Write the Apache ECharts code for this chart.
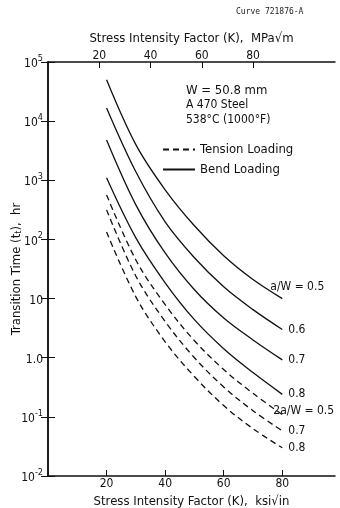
<!DOCTYPE html>
<html>
<head>
<meta charset="utf-8">
<script src="https://cdn.jsdelivr.net/npm/echarts@6/dist/echarts.min.js"></script>
<style>
  html, body { margin: 0; padding: 0; background: #fff; }
  #main { width: 340px; height: 508px; }
</style>
</head>
<body>
<div id="main"></div>
<script>
// stress intensity factor K, ksi sqrt(in)
const kKsi = [20, 30, 40, 50, 60, 70, 80];

// transition time t_t, hr
const bend05 = [50000, 4000, 690, 170, 53, 21, 10];
const bend06 = [16700, 1390, 198, 49, 15.8, 6.5, 3.0];
const bend07 = [4800, 384, 59, 14.1, 4.7, 2.0, 0.92];
const bend08 = [1100, 106, 18.5, 4.4, 1.42, 0.56, 0.24];
const tens05 = [566, 45, 7.9, 1.94, 0.63, 0.25, 0.109];
const tens07 = [316, 24, 4.1, 1.0, 0.32, 0.127, 0.058];
const tens08 = [134, 10.7, 1.86, 0.48, 0.155, 0.063, 0.030];

const bottomTicks = [20, 40, 60, 80];
const topTicks = [20, 40, 60, 80];

const FONT = '"Liberation Sans Narrow", "DejaVu Sans Condensed", sans-serif';

const chart = echarts.init(document.getElementById('main'));

function curve (values, dashed, label, offset) {
  return {
    name: dashed ? 'Tension Loading' : 'Bend Loading',
    type: 'line',
    smooth: 0.35,
    symbol: 'none',
    data: kKsi.map((k, i) => [k, values[i]]),
    itemStyle: { color: '#111' },
    lineStyle: { color: '#111', width: 1.3, type: dashed ? [6, 4] : 'solid' },
    endLabel: {
      show: true,
      formatter: label,
      color: '#111',
      fontFamily: FONT,
      fontSize: 12,
      distance: 6,
      offset: offset || [0, 0]
    },
    silent: true
  };
}

const option = {
  animation: false,
  backgroundColor: '#fff',
  grid: { left: 48, right: 5, top: 62, bottom: 32, containLabel: false, outerBoundsMode: 'none' },
  legend: {
    orient: 'vertical',
    left: 157,
    top: 138,
    itemWidth: 32,
    itemHeight: 10,
    itemGap: 7,
    data: ['Tension Loading', 'Bend Loading'],
    itemStyle: { opacity: 0 },
    textStyle: { color: '#111', fontFamily: FONT, fontSize: 13 }
  },
  xAxis: [
    {
      type: 'value',
      position: 'bottom',
      min: 0,
      max: 98,
      name: 'Stress Intensity Factor (K),  ksi\u221Ain',
      nameLocation: 'middle',
      nameGap: 15,
      nameTextStyle: { color: '#111', fontFamily: FONT, fontSize: 13 },
      axisLine: { lineStyle: { color: '#111', width: 1.5 } },
      axisTick: { inside: true, length: 6, customValues: bottomTicks, lineStyle: { color: '#111' } },
      axisLabel: { customValues: bottomTicks, color: '#111', fontFamily: FONT, fontSize: 12, margin: 2 },
      splitLine: { show: false }
    },
    {
      type: 'value',
      position: 'top',
      min: 0,
      max: 112,
      name: 'Stress Intensity Factor (K),  MPa\u221Am',
      nameLocation: 'middle',
      nameGap: 17,
      nameTextStyle: { color: '#111', fontFamily: FONT, fontSize: 13 },
      axisLine: { lineStyle: { color: '#111', width: 1.5 } },
      axisTick: { inside: true, length: 6, customValues: topTicks, lineStyle: { color: '#111' } },
      axisLabel: { customValues: topTicks, color: '#111', fontFamily: FONT, fontSize: 12, margin: 0 },
      splitLine: { show: false }
    }
  ],
  yAxis: [
    {
      type: 'log',
      logBase: 10,
      min: 0.01,
      max: 100000,
      interval: 1,
      name: '{a|Transition Time (t}{s|t}{a|),  hr}',
      nameLocation: 'middle',
      nameGap: 25,
      nameMoveOverlap: false,
      nameTextStyle: {
        color: '#111',
        rich: {
          a: { fontFamily: FONT, fontSize: 13, color: '#111' },
          s: { fontFamily: FONT, fontSize: 9, color: '#111', verticalAlign: 'bottom', padding: [4, 0, 0, 0] }
        }
      },
      axisLine: { lineStyle: { color: '#111', width: 1.5 } },
      axisTick: { inside: true, length: 7, lineStyle: { color: '#111' } },
      axisLabel: {
        margin: 5,
        formatter: v => {
          const e = Math.round(Math.log10(v));
          if (e === 1) return '{b|10}';
          if (e === 0) return '{b|1.0}';
          return '{b|10}{s|' + e + '}';
        },
        rich: {
          b: { fontFamily: FONT, fontSize: 12, color: '#111', lineHeight: 16, verticalAlign: 'bottom' },
          s: { fontFamily: FONT, fontSize: 9, color: '#111', lineHeight: 16, verticalAlign: 'top' }
        }
      },
      splitLine: { show: false }
    },
    {
      type: 'log',
      logBase: 10,
      position: 'right',
      min: 0.01,
      max: 100000,
      interval: 1,
      axisLine: { show: true, lineStyle: { color: '#111', width: 1.5 } },
      axisTick: { inside: true, length: 7, lineStyle: { color: '#111' } },
      axisLabel: { show: false },
      splitLine: { show: false }
    }
  ],
  graphic: [
    { type: 'text', left: 236, top: 8, style: { text: 'Curve 721876-A', font: '8px "DejaVu Sans Mono", monospace', fill: '#222' } },
    { type: 'text', left: 186, top: 84, style: { text: 'W = 50.8 mm', font: '13px ' + FONT, fill: '#111' } },
    { type: 'text', left: 186, top: 99, style: { text: 'A 470 Steel', font: '12px ' + FONT, fill: '#111' } },
    { type: 'text', left: 186, top: 114, style: { text: '538\u00B0C (1000\u00B0F)', font: '12px ' + FONT, fill: '#111' } }
  ],
  series: [
    curve(bend05, false, 'a/W = 0.5', [-18, -12]),
    curve(bend06, false, '0.6'),
    curve(bend07, false, '0.7'),
    curve(bend08, false, '0.8'),
    curve(tens05, true, '2a/W = 0.5', [-15, -4]),
    curve(tens07, true, '0.7'),
    curve(tens08, true, '0.8')
  ]
};

chart.setOption(option);
</script>
</body>
</html>
